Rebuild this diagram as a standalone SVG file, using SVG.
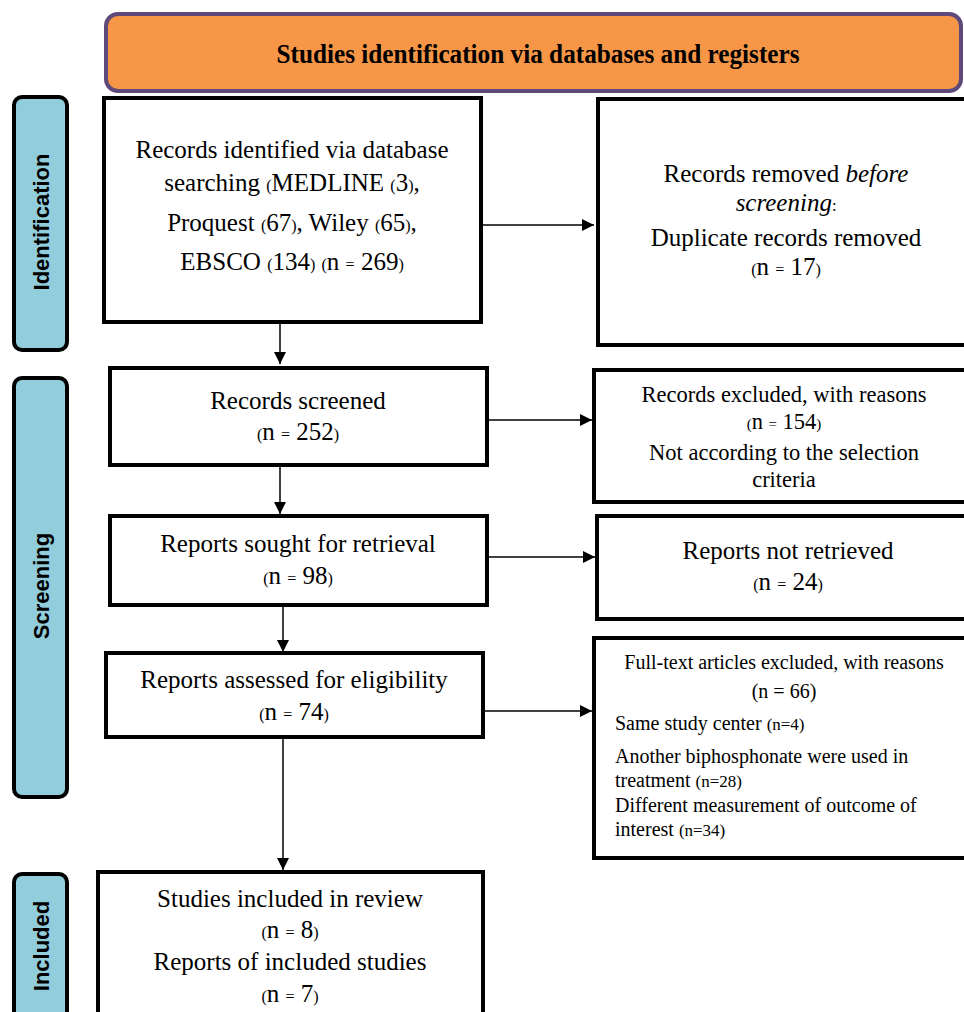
<svg xmlns="http://www.w3.org/2000/svg" width="964" height="1012" viewBox="0 0 964 1012">
<style>
.box{fill:#fff;stroke:#000;stroke-width:4}
.side{fill:#92CDDC;stroke:#000;stroke-width:4}
.st{font-family:"Liberation Sans",Arial,sans-serif;font-weight:bold;font-size:22px;text-anchor:middle;fill:#000}
.t{font-family:"Liberation Serif","Times New Roman",serif;font-size:25px;text-anchor:middle;fill:#000}
.t4{font-family:"Liberation Serif","Times New Roman",serif;font-size:22.5px;text-anchor:middle;fill:#000}
.t8{font-family:"Liberation Serif","Times New Roman",serif;font-size:20px;fill:#000}
.p{font-size:16px}
.q{font-size:15px}
.r{font-size:17px}
.con{stroke:#000;stroke-width:1.5;fill:none}
</style>
<defs>
<marker id="ah" markerUnits="userSpaceOnUse" markerWidth="12" markerHeight="12" refX="12" refY="6" orient="auto">
<path d="M0,0 L12,6 L0,12 z" fill="#000"/>
</marker>
</defs>

<g id="header">
<rect x="106" y="14" width="855" height="77" rx="12" fill="#F79646" stroke="#5F497A" stroke-width="4"/>
<text x="538" y="63" font-family="'Liberation Serif','Times New Roman',serif" font-weight="bold" font-size="26.5" text-anchor="middle" textLength="523" lengthAdjust="spacingAndGlyphs">Studies identification via databases and registers</text>
</g>

<g id="lane-identification">
<rect class="side" x="14" y="97" width="53" height="253" rx="8"/>
<text class="st" transform="translate(49,222) rotate(-90)">Identification</text>
</g>
<g id="lane-screening">
<rect class="side" x="14" y="378" width="53" height="419" rx="8"/>
<text class="st" transform="translate(49,586) rotate(-90)">Screening</text>
</g>
<g id="lane-included">
<rect class="side" x="14" y="874" width="53" height="150" rx="8"/>
<text class="st" transform="translate(49,946) rotate(-90)">Included</text>
</g>

<g id="connectors">
<line class="con" x1="481" y1="225" x2="594" y2="225" marker-end="url(#ah)"/>
<line class="con" x1="280" y1="322" x2="280" y2="364" marker-end="url(#ah)"/>
<line class="con" x1="481" y1="420" x2="592" y2="420" marker-end="url(#ah)"/>
<line class="con" x1="280" y1="465" x2="280" y2="514" marker-end="url(#ah)"/>
<line class="con" x1="487" y1="557" x2="595" y2="557" marker-end="url(#ah)"/>
<line class="con" x1="283" y1="605" x2="283" y2="652" marker-end="url(#ah)"/>
<line class="con" x1="483" y1="711" x2="592" y2="711" marker-end="url(#ah)"/>
<line class="con" x1="283" y1="737" x2="283" y2="870" marker-end="url(#ah)"/>
</g>

<g id="records-identified">
<rect class="box" x="104" y="98" width="377" height="224"/>
<text class="t" x="292" y="158">Records identified via database</text>
<text class="t" x="292" y="191">searching <tspan class="p">(</tspan>MEDLINE <tspan class="p">(</tspan>3<tspan class="p">)</tspan>,</text>
<text class="t" x="292" y="231">Proquest <tspan class="p">(</tspan>67<tspan class="p">)</tspan>, Wiley <tspan class="p">(</tspan>65<tspan class="p">)</tspan>,</text>
<text class="t" x="292" y="270">EBSCO <tspan class="p">(</tspan>134<tspan class="p">)</tspan> <tspan class="p">(</tspan>n <tspan class="p">=</tspan> 269<tspan class="p">)</tspan></text>
</g>

<g id="records-removed">
<rect class="box" x="598" y="99" width="380" height="246"/>
<text class="t" x="786" y="182">Records removed <tspan font-style="italic">before</tspan></text>
<text class="t" x="786" y="211"><tspan font-style="italic">screening</tspan><tspan class="p">:</tspan></text>
<text class="t" x="786" y="246">Duplicate records removed</text>
<text class="t" x="786" y="275"><tspan class="p">(</tspan>n <tspan class="p">=</tspan> 17<tspan class="p">)</tspan></text>
</g>

<g id="records-screened">
<rect class="box" x="110" y="368" width="377" height="97"/>
<text class="t" x="298" y="409">Records screened</text>
<text class="t" x="298" y="440"><tspan class="p">(</tspan>n <tspan class="p">=</tspan> 252<tspan class="p">)</tspan></text>
</g>

<g id="records-excluded">
<rect class="box" x="594" y="370" width="384" height="132"/>
<text class="t4" x="784" y="402">Records excluded, with reasons</text>
<text class="t4" x="784" y="429"><tspan class="q">(</tspan>n <tspan class="q">=</tspan> 154<tspan class="q">)</tspan></text>
<text class="t4" x="784" y="460">Not according to the selection</text>
<text class="t4" x="784" y="487">criteria</text>
</g>

<g id="reports-sought">
<rect class="box" x="110" y="516" width="377" height="89"/>
<text class="t" x="298" y="552">Reports sought for retrieval</text>
<text class="t" x="298" y="584"><tspan class="p">(</tspan>n <tspan class="p">=</tspan> 98<tspan class="p">)</tspan></text>
</g>

<g id="reports-not-retrieved">
<rect class="box" x="597" y="516" width="381" height="103"/>
<text class="t" x="788" y="559">Reports not retrieved</text>
<text class="t" x="788" y="590"><tspan class="p">(</tspan>n <tspan class="p">=</tspan> 24<tspan class="p">)</tspan></text>
</g>

<g id="reports-assessed">
<rect class="box" x="106" y="653" width="377" height="84"/>
<text class="t" x="294" y="688">Reports assessed for eligibility</text>
<text class="t" x="294" y="720"><tspan class="p">(</tspan>n <tspan class="p">=</tspan> 74<tspan class="p">)</tspan></text>
</g>

<g id="fulltext-excluded">
<rect class="box" x="594" y="638" width="384" height="220"/>
<text class="t8" x="784" y="669" text-anchor="middle">Full-text articles excluded, with reasons</text>
<text class="t8" x="784" y="698" text-anchor="middle" font-size="16">(n = 66)</text>
<text class="t8" x="615" y="730">Same study center <tspan class="r">(n=4)</tspan></text>
<text class="t8" x="615" y="763">Another biphosphonate were used in</text>
<text class="t8" x="615" y="787">treatment <tspan class="r">(n=28)</tspan></text>
<text class="t8" x="615" y="812">Different measurement of outcome of</text>
<text class="t8" x="615" y="836">interest <tspan class="r">(n=34)</tspan></text>
</g>

<g id="studies-included">
<rect class="box" x="98" y="872" width="385" height="150"/>
<text class="t" x="290" y="907">Studies included in review</text>
<text class="t" x="290" y="938"><tspan class="p">(</tspan>n <tspan class="p">=</tspan> 8<tspan class="p">)</tspan></text>
<text class="t" x="290" y="970">Reports of included studies</text>
<text class="t" x="290" y="1002"><tspan class="p">(</tspan>n <tspan class="p">=</tspan> 7<tspan class="p">)</tspan></text>
</g>
</svg>
